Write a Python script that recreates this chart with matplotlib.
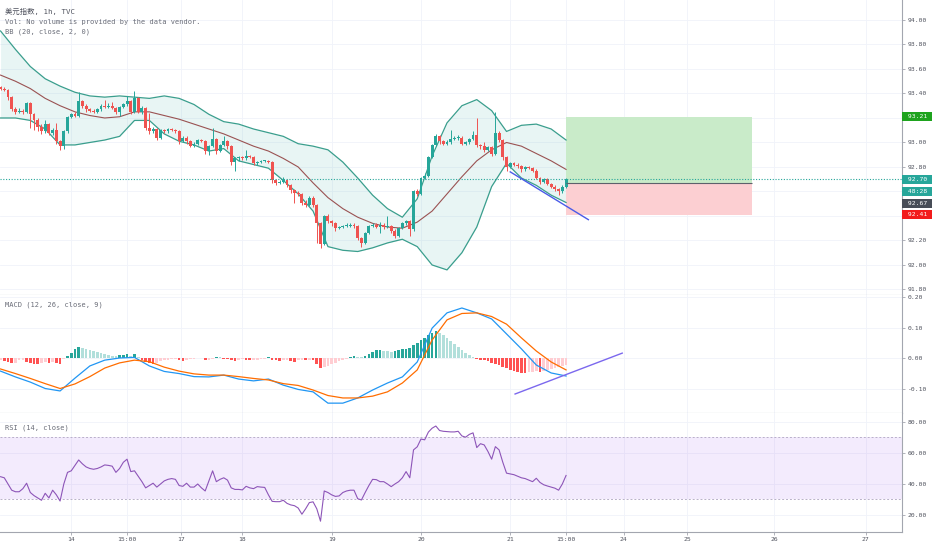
import matplotlib
matplotlib.use('Agg')
import matplotlib.pyplot as plt
import numpy as np
from matplotlib.ticker import FuncFormatter

plt.rcParams['font.family'] = ['DejaVu Sans Mono', 'Noto Sans CJK SC']

#%% values (1h bars, last bar = 21st 15:00)
first_open = 93.45
closes = [93.44, 93.43, 93.37, 93.27, 93.25, 93.26, 93.25, 93.32, 93.23, 93.18,
          93.13, 93.09, 93.15, 93.08, 93.10, 93.01, 92.97, 93.09, 93.21, 93.23,
          93.22, 93.34, 93.30, 93.27, 93.26, 93.25, 93.27, 93.30, 93.29, 93.30,
          93.28, 93.25, 93.29, 93.31, 93.34, 93.25, 93.36, 93.25, 93.28, 93.12,
          93.09, 93.11, 93.04, 93.10, 93.09, 93.11, 93.10, 93.09, 93.01, 93.04,
          93.01, 92.97, 92.99, 93.02, 93.01, 92.93, 92.97, 93.03, 92.93, 92.98,
          93.01, 92.97, 92.84, 92.87, 92.88, 92.87, 92.89, 92.88, 92.83, 92.84,
          92.85, 92.85, 92.84, 92.69, 92.67, 92.68, 92.69, 92.65, 92.61, 92.59,
          92.58, 92.51, 92.49, 92.55, 92.49, 92.34, 92.17, 92.40, 92.36, 92.34,
          92.30, 92.31, 92.32, 92.32, 92.33, 92.32, 92.22, 92.18, 92.26, 92.32,
          92.33, 92.31, 92.33, 92.31, 92.32, 92.28, 92.24, 92.30, 92.34, 92.36,
          92.29, 92.60, 92.58, 92.71, 92.73, 92.88, 92.98, 93.05, 93.01, 92.99,
          93.00, 93.03, 93.04, 93.04, 92.99, 93.00, 93.03, 93.06, 92.98, 92.97,
          92.94, 92.96, 92.91, 93.08, 93.02, 92.88, 92.80, 92.83, 92.82, 92.81,
          92.78, 92.80, 92.79, 92.77, 92.71, 92.68, 92.70, 92.66, 92.64, 92.62,
          92.60, 92.64, 92.70]
highs = [93.46, 93.45, 93.44, 93.38, 93.29, 93.28, 93.27, 93.33, 93.33, 93.24,
         93.20, 93.15, 93.18, 93.16, 93.12, 93.16, 93.02, 93.10, 93.22, 93.24,
         93.25, 93.41, 93.35, 93.31, 93.28, 93.27, 93.28, 93.31, 93.35, 93.32,
         93.33, 93.29, 93.30, 93.32, 93.38, 93.35, 93.42, 93.37, 93.30, 93.29,
         93.24, 93.13, 93.12, 93.11, 93.11, 93.12, 93.12, 93.11, 93.10, 93.05,
         93.05, 93.02, 93.00, 93.03, 93.03, 93.02, 92.98, 93.12, 93.04, 92.99,
         93.05, 93.02, 92.98, 92.88, 92.89, 92.89, 92.94, 92.90, 92.89, 92.85,
         92.86, 92.86, 92.86, 92.85, 92.70, 92.69, 92.72, 92.70, 92.66, 92.62,
         92.60, 92.59, 92.53, 92.56, 92.56, 92.50, 92.35, 92.41, 92.42, 92.37,
         92.35, 92.32, 92.33, 92.34, 92.34, 92.34, 92.33, 92.23, 92.27, 92.33,
         92.34, 92.34, 92.35, 92.34, 92.40, 92.33, 92.29, 92.31, 92.35, 92.37,
         92.37, 92.61, 92.62, 92.72, 92.75, 92.89, 92.99, 93.07, 93.06, 93.02,
         93.02, 93.10, 93.05, 93.06, 93.05, 93.01, 93.04, 93.09, 93.20, 92.99,
         93.00, 92.97, 92.97, 93.25, 93.09, 93.03, 92.89, 92.84, 92.84, 92.83,
         92.82, 92.81, 92.81, 92.80, 92.78, 92.72, 92.71, 92.71, 92.67, 92.65,
         92.63, 92.65, 92.71]
lows = [93.43, 93.42, 93.35, 93.26, 93.23, 93.24, 93.23, 93.24, 93.12, 93.10,
        93.09, 93.07, 93.08, 93.06, 93.06, 92.99, 92.94, 92.95, 93.08, 93.20,
        93.21, 93.21, 93.28, 93.25, 93.25, 93.24, 93.24, 93.26, 93.28, 93.28,
        93.27, 93.23, 93.22, 93.28, 93.30, 93.23, 93.24, 93.24, 93.23, 93.10,
        93.07, 93.08, 93.02, 93.03, 93.08, 93.08, 93.09, 93.08, 92.99, 93.00,
        92.99, 92.96, 92.96, 92.98, 93.00, 92.91, 92.90, 92.96, 92.91, 92.92,
        92.97, 92.95, 92.82, 92.77, 92.85, 92.86, 92.86, 92.87, 92.82, 92.82,
        92.83, 92.84, 92.83, 92.67, 92.65, 92.66, 92.67, 92.64, 92.59, 92.51,
        92.56, 92.49, 92.47, 92.48, 92.47, 92.18, 92.14, 92.16, 92.34, 92.32,
        92.28, 92.29, 92.30, 92.31, 92.31, 92.30, 92.20, 92.15, 92.17, 92.25,
        92.31, 92.30, 92.26, 92.29, 92.30, 92.26, 92.22, 92.23, 92.29, 92.33,
        92.24, 92.28, 92.56, 92.57, 92.70, 92.72, 92.87, 92.97, 92.99, 92.98,
        92.98, 92.99, 93.02, 93.02, 92.98, 92.98, 92.99, 93.02, 92.96, 92.95,
        92.92, 92.93, 92.89, 92.90, 93.00, 92.86, 92.77, 92.79, 92.81, 92.79,
        92.76, 92.77, 92.78, 92.76, 92.70, 92.66, 92.67, 92.65, 92.63, 92.60,
        92.57, 92.59, 92.63]

# Bollinger bands / MACD lines, read every 4th bar
line_bars = list(range(0, 153, 4))
bb_upper = [93.91, 93.76, 93.62, 93.52, 93.46, 93.41, 93.38, 93.37, 93.38, 93.37,
            93.36, 93.38, 93.36, 93.31, 93.23, 93.17, 93.15, 93.11, 93.08, 93.05,
            92.99, 92.97, 92.94, 92.84, 92.71, 92.57, 92.46, 92.39, 92.54, 92.89,
            93.16, 93.30, 93.35, 93.26, 93.09, 93.14, 93.15, 93.11, 93.02]
bb_basis = [93.55, 93.50, 93.44, 93.36, 93.30, 93.25, 93.22, 93.20, 93.21, 93.25,
            93.25, 93.22, 93.19, 93.15, 93.11, 93.07, 93.02, 92.97, 92.93, 92.87,
            92.80, 92.67, 92.55, 92.46, 92.39, 92.34, 92.31, 92.30, 92.35, 92.44,
            92.58, 92.72, 92.85, 92.94, 93.00, 92.97, 92.91, 92.85, 92.78]
bb_lower = [93.20, 93.20, 93.18, 93.11, 92.98, 92.98, 93.00, 93.02, 93.05, 93.18,
            93.18, 93.07, 93.01, 92.98, 92.93, 92.95, 92.85, 92.82, 92.79, 92.69,
            92.58, 92.44, 92.15, 92.12, 92.11, 92.14, 92.18, 92.21, 92.15, 92.00,
            91.96, 92.10, 92.31, 92.64, 92.83, 92.71, 92.65, 92.57, 92.51]
macd_line = [-0.043, -0.062, -0.079, -0.100, -0.108, -0.066, -0.026, -0.007, 0.000, 0.002,
             -0.026, -0.044, -0.051, -0.061, -0.062, -0.056, -0.069, -0.075, -0.069, -0.089,
             -0.103, -0.111, -0.148, -0.148, -0.131, -0.105, -0.082, -0.062, -0.013, 0.098,
             0.148, 0.164, 0.148, 0.128, 0.079, 0.030, -0.023, -0.049, -0.059]
macd_signal = [-0.036, -0.051, -0.067, -0.084, -0.100, -0.085, -0.061, -0.033, -0.016, -0.007,
               -0.012, -0.030, -0.043, -0.052, -0.056, -0.056, -0.061, -0.067, -0.072, -0.084,
               -0.090, -0.105, -0.123, -0.131, -0.131, -0.125, -0.111, -0.082, -0.039, 0.059,
               0.125, 0.146, 0.148, 0.136, 0.111, 0.066, 0.023, -0.013, -0.039]
macd_hist = [-0.008, -0.010, -0.014, -0.016, -0.015, -0.008, -0.006, -0.012, -0.016, -0.019,
             -0.020, -0.015, -0.012, -0.016, -0.013, -0.016, -0.018, -0.002, 0.008, 0.018,
             0.028, 0.035, 0.032, 0.029, 0.026, 0.023, 0.020, 0.017, 0.013, 0.010,
             0.007, 0.005, 0.009, 0.011, 0.012, 0.008, 0.012, 0.002, -0.006, -0.012,
             -0.016, -0.018, -0.015, -0.010, -0.008, -0.006, -0.004, -0.003, -0.007, -0.009,
             -0.006, -0.004, -0.002, -0.001, 0.000, -0.006, -0.005, -0.002, 0.003, 0.002,
             -0.002, -0.003, -0.008, -0.009, -0.006, -0.004, -0.005, -0.007, -0.006, -0.005,
             -0.003, -0.002, 0.003, -0.005, -0.008, -0.009, -0.008, -0.007, -0.010, -0.012,
             -0.008, -0.006, -0.007, -0.005, -0.008, -0.020, -0.033, -0.030, -0.026, -0.021,
             -0.016, -0.011, -0.007, -0.003, 0.004, 0.006, 0.004, 0.002, 0.008, 0.014,
             0.020, 0.025, 0.027, 0.024, 0.022, 0.020, 0.022, 0.025, 0.028, 0.031,
             0.033, 0.042, 0.050, 0.058, 0.066, 0.075, 0.083, 0.088, 0.082, 0.074,
             0.065, 0.055, 0.045, 0.035, 0.026, 0.017, 0.009, 0.003, -0.004, -0.006,
             -0.008, -0.010, -0.015, -0.018, -0.022, -0.028, -0.034, -0.038, -0.042, -0.045,
             -0.048, -0.050, -0.047, -0.045, -0.043, -0.047, -0.042, -0.039, -0.036, -0.033,
             -0.030, -0.027, -0.024]
rsi = [44.7, 44.0, 40.0, 36.0, 35.0, 35.0, 37.0, 40.5, 34.5, 32.5,
       31.0, 29.5, 34.0, 31.0, 36.0, 33.0, 29.0, 40.0, 47.5, 48.5,
       52.0, 55.5, 53.0, 51.0, 50.0, 49.5, 50.0, 51.0, 52.3, 52.0,
       51.5, 47.5, 50.0, 54.0, 56.0, 48.0, 48.5, 45.0, 41.5, 37.5,
       39.0, 40.5, 38.0, 40.0, 42.0, 43.0, 43.5, 43.0, 39.0, 38.5,
       40.5, 38.0, 38.0, 40.0, 37.5, 35.5, 42.0, 48.5, 41.5, 43.0,
       44.0, 42.5, 37.5, 36.5, 36.5, 36.2, 38.5, 37.5, 37.0, 38.3,
       38.0, 37.8, 33.0, 28.8, 28.6, 28.6, 29.5, 27.5, 26.5, 26.0,
       24.5, 20.5, 24.0, 28.0, 28.5, 24.0, 16.0, 35.5, 34.5, 33.0,
       32.0, 32.3, 34.5, 35.5, 36.0, 36.0, 30.5, 29.7, 34.5, 39.0,
       43.0, 42.8, 41.5, 41.5, 40.0, 38.3, 40.0, 41.5, 44.0, 48.0,
       44.0, 62.0, 64.0, 69.0, 68.5, 73.5, 76.0, 77.4, 74.5, 74.0,
       73.8, 73.6, 73.6, 74.0, 71.0, 70.2, 72.0, 73.0, 63.5, 66.0,
       65.2, 61.0, 56.0, 64.1, 62.0, 54.0, 47.0, 46.5, 46.0, 45.0,
       44.0, 43.5, 42.5, 41.5, 43.7, 41.0, 39.5, 38.7, 38.0, 37.3,
       36.0, 40.0, 45.5]

tick_bars = [19, 34, 48.5, 65, 89, 113, 137, 152, 167.5, 184.5, 208, 232.5]
tick_labels = ['14', '15:00', '17', '18', '19', '20', '21', '15:00', '24', '25', '26', '27']
price_ticks = [91.8, 92.0, 92.2, 92.4, 92.6, 92.8, 93.0, 93.2, 93.4, 93.6, 93.8, 94.0]
hidden_price_ticks = [92.4, 92.6, 93.2]   # covered by the price tags

# drawings on the chart
long_start, long_end = 152, 202
entry, target, stop = 92.67, 93.21, 92.41
last_price = 92.70
countdown = '48:28'
price_trend_x, price_trend_y = [137.0, 158.0], [92.76, 92.37]
macd_trend_x, macd_trend_y = [138.3, 167.1], [-0.118, 0.016]

#%% figure
W, H = 932, 550
fig = plt.figure(figsize=(W / 100, H / 100), dpi=100)
right = 902 / W


def pane(top_px, bot_px):
    return fig.add_axes([0, 1 - bot_px / H, right, (bot_px - top_px) / H])


ax = pane(0, 295)
axm = pane(295, 413)
axr = pane(413, 532)

grid_c = '#f0f3fa'
edge_c = '#a3a6af'
text_c = '#50535e'
fs = 4.6

for a in (ax, axm, axr):
    a.set_xlim(-0.15, 242.3)
    a.yaxis.tick_right()
    for s in ('top', 'left'):
        a.spines[s].set_visible(False)
    a.spines['right'].set_color(edge_c)
    a.spines['bottom'].set_color(edge_c)
    a.tick_params(axis='y', colors=edge_c, labelcolor=text_c, labelsize=fs,
                  length=2, width=0.6, pad=2)
    a.yaxis.set_major_formatter(FuncFormatter(lambda v, p: '%.2f' % v))
    a.set_xticks(tick_bars)
    a.grid(True, color=grid_c, lw=0.6)
    a.set_axisbelow(True)
for a in (ax, axm):
    a.tick_params(axis='x', length=0, labelbottom=False)
axr.set_xticklabels(tick_labels)
axr.tick_params(axis='x', colors=edge_c, labelcolor=text_c, labelsize=fs,
                length=2, width=0.6, pad=1.5)

# price pane
ax.set_ylim(91.755, 94.163)
ax.set_yticks(price_ticks)
ax.set_yticklabels(['' if t in hidden_price_ticks else '%.2f' % t for t in price_ticks])

x = np.arange(len(closes))
c = np.array(closes)
o = np.array([first_open] + closes[:-1])
cols = np.where(c >= o, '#26a69a', '#ef5350')

ax.fill_between(line_bars, bb_upper, bb_lower, color='#26a69a', alpha=0.1, lw=0, zorder=1)
ax.plot(line_bars, bb_upper, color='#3a9e8d', lw=0.9, zorder=2)
ax.plot(line_bars, bb_lower, color='#3a9e8d', lw=0.9, zorder=2)
ax.plot(line_bars, bb_basis, color='#9a5252', lw=0.8, zorder=2)

ax.vlines(x, lows, highs, colors=cols, lw=0.7, zorder=3)
ax.bar(x, np.maximum(np.abs(c - o), 0.004), bottom=np.minimum(o, c),
       width=0.78, color=cols, lw=0, zorder=4)

ax.fill_between([long_start, long_end], entry, target, color='#c9ebc9', lw=0, zorder=1.5)
ax.fill_between([long_start, long_end], stop, entry, color='#fccfd2', lw=0, zorder=1.5)
ax.hlines(entry, long_start, long_end, color='#5d606b', lw=0.8, zorder=5)
ax.axhline(last_price, color='#26a69a', ls=(0, (1, 1.5)), lw=0.8, zorder=5)
ax.plot(price_trend_x, price_trend_y, color='#4a5be8', lw=1.0, zorder=6)


def tag(a, y, txt, fc, dy=0):
    a.annotate(' %s ' % txt, xy=(1.0, y), xycoords=a.get_yaxis_transform(),
               xytext=(1.2, dy), textcoords='offset points', ha='left', va='center',
               fontsize=fs, color='white', annotation_clip=False, zorder=10,
               bbox=dict(boxstyle='square,pad=0.3', fc=fc, ec='none'))


tag(ax, target, '%.2f' % target, '#1ea31e')
tag(ax, last_price, '%.2f' % last_price, '#26a69a')
tag(ax, last_price, countdown, '#26a69a', dy=-8.6)
tag(ax, entry, '%.2f' % entry, '#474d57', dy=-14.8)
tag(ax, stop, '%.2f' % stop, '#f21c1c')

# MACD pane
axm.set_ylim(-0.1803, 0.2066)
axm.set_yticks([-0.1, 0.0, 0.1, 0.2])
h = np.array(macd_hist)
prev = np.concatenate([[h[0]], h[:-1]])
hcols = np.where(h >= 0, np.where(h >= prev, '#26a69a', '#b2dfdb'),
                 np.where(h < prev, '#ff5252', '#ffcdd2'))
axm.bar(x, h, width=0.72, color=hcols, lw=0, zorder=2)
axm.plot(line_bars, macd_line, color='#2196f3', lw=0.9, zorder=3)
axm.plot(line_bars, macd_signal, color='#ff6d00', lw=0.9, zorder=3)
axm.plot(macd_trend_x, macd_trend_y, color='#7b68ee', lw=1.0, zorder=4)

# RSI pane
axr.set_ylim(9.03, 85.8)
axr.set_yticks([20, 40, 60, 80])
axr.axhspan(30, 70, color='#9040f0', alpha=0.1, lw=0, zorder=1)
for lvl in (30, 70):
    axr.axhline(lvl, color='#b9b0c9', ls=(0, (2, 2)), lw=0.7, zorder=2)
axr.plot(x, rsi, color='#8d55b8', lw=0.8, zorder=3)

# legends / titles
head_c = '#6a6d78'
fig.text(5 / W, 1 - 11 / H, '美元指数, 1h, TVC', fontsize=5.3, color=text_c, va='center')
fig.text(5 / W, 1 - 22 / H, 'Vol: No volume is provided by the data vendor.', fontsize=5,
         color=head_c, va='center')
fig.text(5 / W, 1 - 32 / H, 'BB (20, close, 2, 0)', fontsize=5, color=head_c, va='center')
fig.text(5 / W, 1 - 305 / H, 'MACD (12, 26, close, 9)', fontsize=5, color=head_c, va='center')
fig.text(5 / W, 1 - 428 / H, 'RSI (14, close)', fontsize=5, color=head_c, va='center')

fig.savefig('out.png', dpi=100, facecolor='white')
